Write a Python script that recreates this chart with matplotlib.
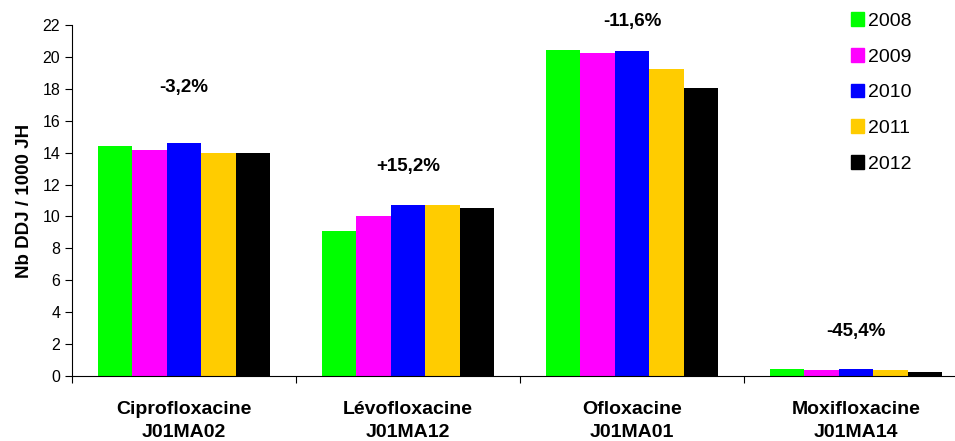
import matplotlib
matplotlib.use("Agg")
import matplotlib.pyplot as plt
import numpy as np
from matplotlib.patches import Patch

plt.rcParams['font.family'] = ['Liberation Sans', 'DejaVu Sans']

categories = ["Ciprofloxacine\nJ01MA02", "Lévofloxacine\nJ01MA12", "Ofloxacine\nJ01MA01", "Moxifloxacine\nJ01MA14"]
years = ["2008", "2009", "2010", "2011", "2012"]
colors = ["#00FF00", "#FF00FF", "#0000FF", "#FFCC00", "#000000"]
values = {
    "2008": [14.41, 9.09, 20.42, 0.46],
    "2009": [14.16, 10.03, 20.23, 0.39],
    "2010": [14.60, 10.72, 20.36, 0.46],
    "2011": [13.95, 10.72, 19.23, 0.39],
    "2012": [13.95, 10.53, 18.04, 0.27],
}
changes = ["-3,2%", "+15,2%", "-11,6%", "-45,4%"]
change_y = [18.1, 13.1, 22.2, 2.8]

fig = plt.figure(figsize=(9.55, 4.41), dpi=100)
ax = fig.add_axes([72/955, 1 - 376.3/441, (955-72)/955, 351.6/441])

x = np.arange(len(categories))
group = 0.768
w = group / len(years)
for i, y in enumerate(years):
    ax.bar(x - group/2 + w*(i+0.5), values[y], width=w, color=colors[i], label=y)

for i, t in enumerate(changes):
    ax.text(x[i], change_y[i], t, ha='center', va='center', fontsize=13.5, fontweight='bold')

ax.set_ylim(0, 22)
ax.set_yticks(np.arange(0, 23, 2))
ax.set_xlim(-0.5, 3.5 - 13/224)
ax.set_xticks(np.arange(-0.5, 3.5, 1.0))
ax.set_xticklabels([])
ax.set_xticks(x, minor=True)
ax.set_xticklabels(categories, minor=True, fontsize=14, fontweight='bold', linespacing=1.45)
ax.tick_params(axis='x', which='minor', length=0, pad=18)
ax.tick_params(axis='x', which='major', length=5, direction='out')
ax.tick_params(axis='y', labelsize=11.5, length=5, direction='out')
ax.spines['top'].set_visible(False)
ax.spines['right'].set_visible(False)
ax.set_ylabel("Nb DDJ / 1000 JH", fontsize=13.5, fontweight='bold', labelpad=7)

handles = [Patch(color=c) for c in colors]
ax.legend(handles, years, loc='upper left', bbox_to_anchor=(761/883, 1.085), frameon=False,
          fontsize=14, handlelength=0.7, handleheight=0.7, handletextpad=0.2, labelspacing=0.93)

fig.savefig("out.png", dpi=100)
